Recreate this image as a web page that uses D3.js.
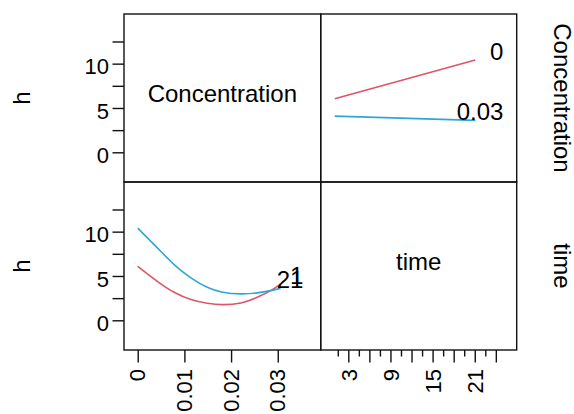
<!DOCTYPE html>
<html>
<head>
    <title>Interaction plot</title>
    <script src="https://d3js.org/d3.v7.min.js"></script>
    <style>
        body { margin: 0; background: #fff; }
        text { font-family: "Liberation Sans", Arial, sans-serif; fill: #000; }
    </style>
</head>
<body>
    <svg id="chart"></svg>

    <script>
        // axis ticks
        const hTicks = [0, 2.5, 5, 7.5, 10, 12.5];
        const hLabels = [0, 5, 10];
        const concTicks = [0, 0.01, 0.02, 0.03];
        const timeTicks = [1.5, 3, 4.5, 6, 7.5, 9, 10.5, 12, 13.5, 15, 16.5, 18, 19.5, 21, 22.5, 24];
        const timeMajor = [3, 6, 9, 12, 15, 18, 21, 24];
        const timeLabels = [3, 9, 15, 21];

        // h against time, one line per Concentration level
        const timeLevels = [1, 21];
        const hConc0 = [6.05, 10.4];
        const hConc003 = [4.08, 3.6];

        // h against Concentration, one curve per time level
        const concGrid = [0, 0.0042, 0.0078, 0.0114, 0.0149, 0.0182, 0.0221, 0.0256, 0.0285, 0.0306];
        const hTime1 = [6.1, 4.4, 3.16, 2.34, 1.92, 1.77, 1.96, 2.6, 3.35, 4.08];
        const hTime21 = [10.4, 8.17, 6.29, 4.79, 3.72, 3.16, 2.98, 3.09, 3.35, 3.6];

        const red = "#df536b", blue = "#2ea7d4";

        const width = 574, height = 414;
        const cols = [124, 320.7, 516.7];
        const rows = [14, 182, 350];

        const svg = d3.select("#chart").attr("width", width).attr("height", height);

        const yTop = d3.scaleLinear().domain([-3.35, 15.6]).range([rows[1], rows[0]]);
        const yBot = d3.scaleLinear().domain([-3.35, 15.6]).range([rows[2], rows[1]]);
        const xConc = d3.scaleLinear().domain([-0.00294, 0.0392]).range([cols[0], cols[1]]);
        const xTime = d3.scaleLinear().domain([-1.0, 26.9]).range([cols[1], cols[2]]);

        // panel frames
        for (let r = 0; r < 2; r++) {
            for (let c = 0; c < 2; c++) {
                svg.append("rect")
                    .attr("x", cols[c]).attr("y", rows[r])
                    .attr("width", cols[c + 1] - cols[c])
                    .attr("height", rows[r + 1] - rows[r])
                    .attr("fill", "none")
                    .attr("stroke", "#111")
                    .attr("stroke-width", 1.4);
            }
        }

        // left axes (both rows)
        [yTop, yBot].forEach(y => {
            const g = svg.append("g").attr("transform", `translate(${cols[0]},0)`);
            g.call(d3.axisLeft(y).tickValues(hTicks).tickSize(11.5).tickFormat(""))
                .call(g => g.select(".domain").remove());
            g.selectAll("line").attr("stroke", "#111").attr("stroke-width", 1.4);
            g.selectAll(".lab").data(hLabels).join("text")
                .attr("x", -15).attr("y", d => y(d) + 10.8)
                .attr("text-anchor", "end")
                .style("font-size", "22px")
                .text(d => d);
        });

        // bottom axis: Concentration
        const gc = svg.append("g").attr("transform", `translate(0,${rows[2]})`);
        gc.call(d3.axisBottom(xConc).tickValues(concTicks).tickSize(12.5).tickFormat(""))
            .call(g => g.select(".domain").remove());
        gc.selectAll("line").attr("stroke", "#111").attr("stroke-width", 1.4);
        gc.selectAll(".lab").data(concTicks).join("text")
            .attr("transform", d => `translate(${xConc(d)},19) rotate(-90)`)
            .attr("dy", "0.35em")
            .attr("text-anchor", "end")
            .style("font-size", "22px")
            .text(d => d);

        // bottom axis: time
        const gt = svg.append("g").attr("transform", `translate(0,${rows[2]})`);
        gt.selectAll("line").data(timeTicks).join("line")
            .attr("x1", d => xTime(d)).attr("x2", d => xTime(d))
            .attr("y1", 0).attr("y2", d => timeMajor.includes(d) ? 12.5 : 6.5)
            .attr("stroke", "#111").attr("stroke-width", 1.4);
        gt.selectAll(".lab").data(timeLabels).join("text")
            .attr("transform", d => `translate(${xTime(d)},19) rotate(-90)`)
            .attr("dy", "0.35em")
            .attr("text-anchor", "end")
            .style("font-size", "22px")
            .text(d => d);

        // diagonal panel names
        svg.append("text")
            .attr("x", (cols[0] + cols[1]) / 2).attr("y", (rows[0] + rows[1]) / 2 + 3.5)
            .attr("text-anchor", "middle").style("font-size", "24px")
            .text("Concentration");
        svg.append("text")
            .attr("x", (cols[1] + cols[2]) / 2).attr("y", (rows[1] + rows[2]) / 2 + 3.5)
            .attr("text-anchor", "middle").style("font-size", "24px")
            .text("time");

        // margin labels
        [rows[0], rows[1]].forEach((top, i) => {
            const cy = (top + rows[i + 1]) / 2;
            svg.append("text")
                .attr("transform", `translate(30,${cy}) rotate(-90)`)
                .attr("text-anchor", "middle").style("font-size", "24px")
                .text("h");
            svg.append("text")
                .attr("transform", `translate(553.5,${cy}) rotate(90)`)
                .attr("text-anchor", "middle").style("font-size", "24px")
                .text(i === 0 ? "Concentration" : "time");
        });

        // top-right: h vs time
        const lineTime = d3.line().x((d, i) => xTime(timeLevels[i])).y(d => yTop(d));
        [[hConc0, red, "0"], [hConc003, blue, "0.03"]].forEach(([vals, col, lab]) => {
            svg.append("path").attr("d", lineTime(vals))
                .attr("fill", "none").attr("stroke", col).attr("stroke-width", 1.6);
            svg.append("text")
                .attr("x", xTime(25)).attr("y", yTop(vals[vals.length - 1]))
                .attr("text-anchor", "end").style("font-size", "24px")
                .text(lab);
        });

        // bottom-left: h vs Concentration
        const lineConc = d3.line().x((d, i) => xConc(concGrid[i])).y(d => yBot(d)).curve(d3.curveNatural);
        [[hTime1, red, "1"], [hTime21, blue, "21"]].forEach(([vals, col, lab]) => {
            svg.append("path").attr("d", lineConc(vals))
                .attr("fill", "none").attr("stroke", col).attr("stroke-width", 1.6);
        });
        [[hTime21, "21"], [hTime1, "1"]].forEach(([vals, lab]) => {
            svg.append("text")
                .attr("x", xConc(0.0355)).attr("y", yBot(vals[vals.length - 1]))
                .attr("text-anchor", "end").style("font-size", "24px")
                .text(lab);
        });
    </script>
</body>
</html>
